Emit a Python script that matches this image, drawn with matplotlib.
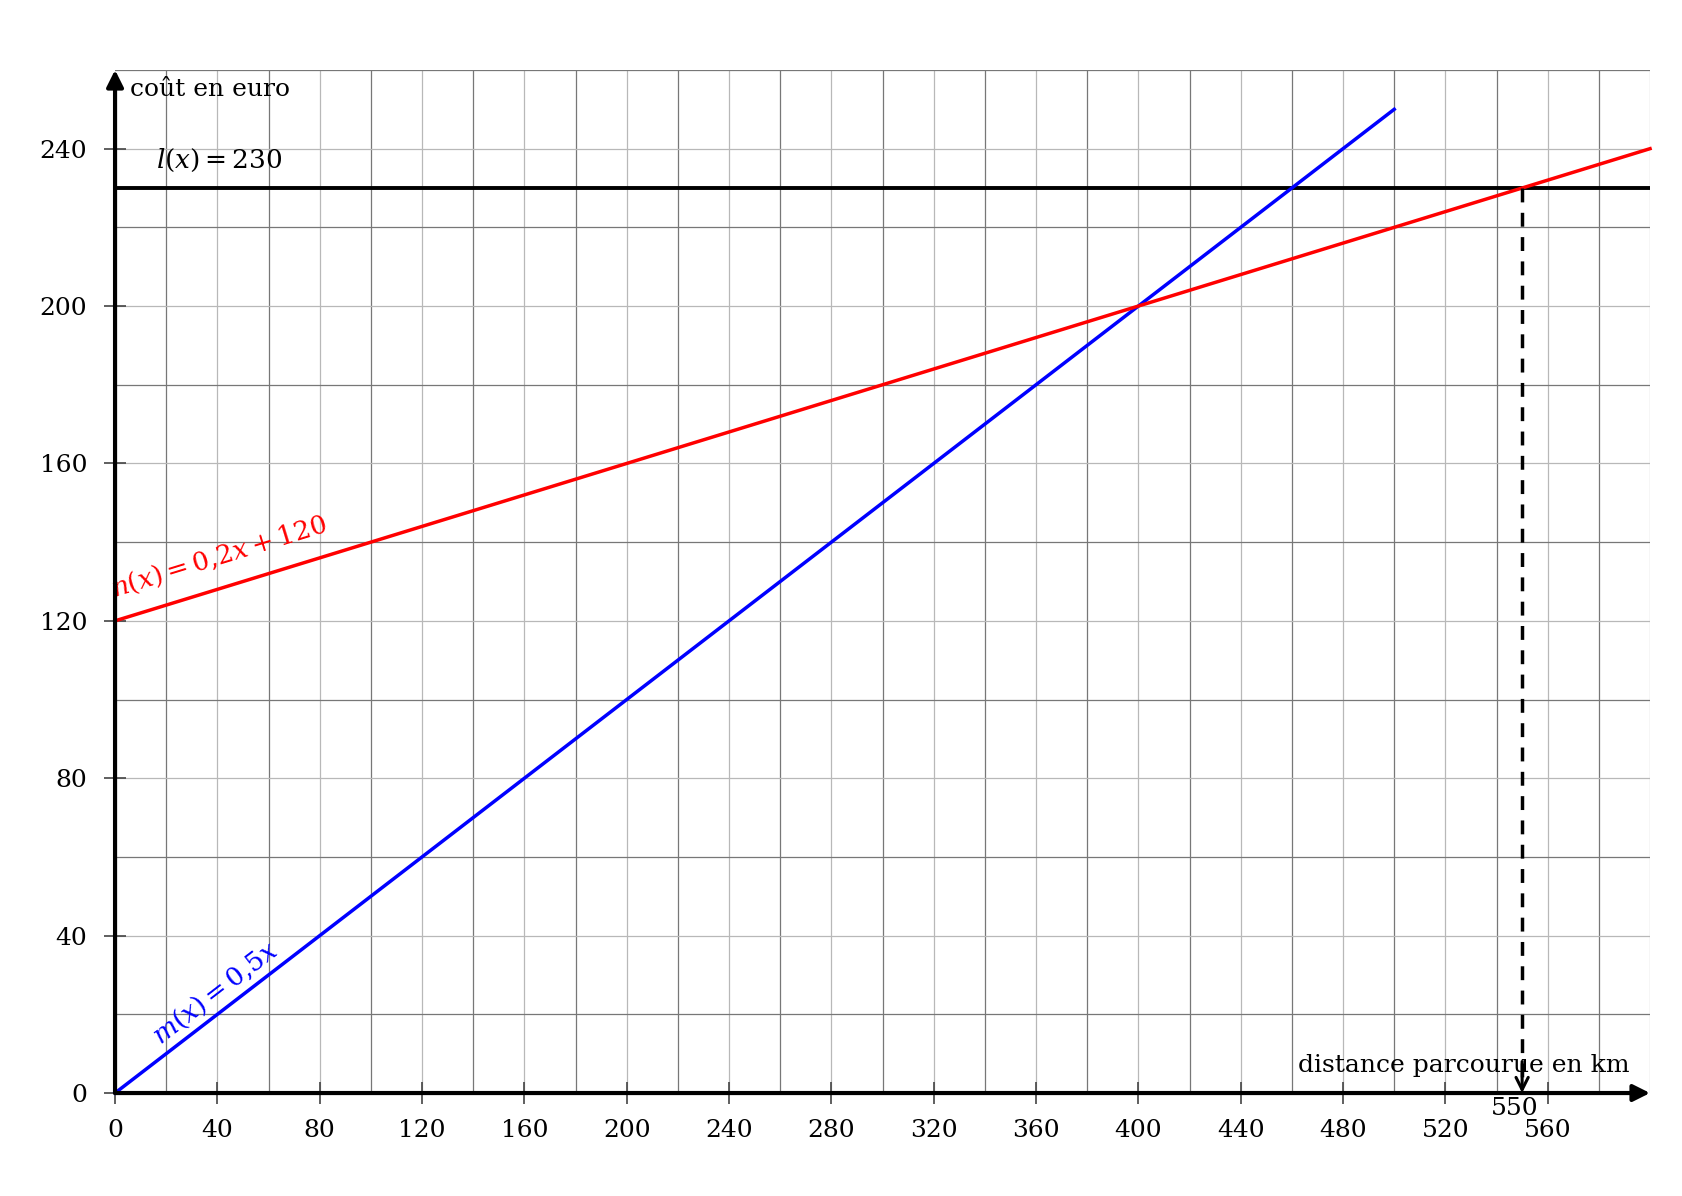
import numpy as np
import matplotlib.pyplot as plt

plt.rcParams['font.family'] = ['DejaVu Serif']
plt.rcParams['mathtext.fontset'] = 'dejavuserif'

# données
x_m = [0, 500]
y_m = [0.5 * v for v in x_m]          # m(x) = 0,5x
x_n = [0, 600]
y_n = [0.2 * v + 120 for v in x_n]    # n(x) = 0,2x + 120
x_l = [0, 600]
y_l = [230, 230]                      # l(x) = 230
x_sol = 550

xticks = list(range(0, 561, 40))
yticks = list(range(0, 241, 40))

fig = plt.figure(figsize=(16.82, 11.96), dpi=100)
ax = fig.add_axes([0.0684, 0.0861, 0.9126, 0.8554])
ax.set_xlim(0, 600)
ax.set_ylim(0, 260)

# quadrillage
for gx in range(20, 601, 20):
    c = '#b8b8b8' if gx % 40 == 0 else '#777777'
    ax.axvline(gx, color=c, lw=0.9, zorder=1)
for gy in range(20, 261, 20):
    c = '#b8b8b8' if gy % 40 == 0 else '#777777'
    ax.axhline(gy, color=c, lw=0.9, zorder=1)

for s in ax.spines.values():
    s.set_visible(False)

ax.set_xticks(xticks)
ax.set_yticks(yticks)
ax.set_xticklabels([str(t) for t in xticks], fontsize=18)
ax.set_yticklabels([str(t) for t in yticks], fontsize=18)
ax.tick_params(axis='x', direction='inout', length=16, width=1.2, color='#444444', pad=11)
ax.tick_params(axis='y', direction='inout', length=16, width=1.2, color='#444444', pad=12)

# axes avec flèches
ax.annotate('', xy=(600, 0), xytext=(0, 0),
            arrowprops=dict(arrowstyle='-|>', lw=3, color='black', mutation_scale=25,
                            shrinkA=0, shrinkB=0),
            annotation_clip=False, zorder=6)
ax.annotate('', xy=(0, 260), xytext=(0, 0),
            arrowprops=dict(arrowstyle='-|>', lw=3, color='black', mutation_scale=25,
                            shrinkA=0, shrinkB=0),
            annotation_clip=False, zorder=6)

# courbes
ax.plot(x_m, y_m, color='blue', lw=2.5, zorder=4, clip_on=False)
ax.plot(x_n, y_n, color='red', lw=2.5, zorder=4, clip_on=False)
ax.plot(x_l, y_l, color='black', lw=2.8, zorder=3)

# pointillés vers 550
ax.plot([x_sol, x_sol], [230, 2], color='black', lw=2.5, ls=(0, (4, 3)), zorder=5)
ax.annotate('', xy=(x_sol, 0), xytext=(x_sol, 8),
            arrowprops=dict(arrowstyle='->', lw=2.2, color='black',
                            mutation_scale=22, shrinkA=0, shrinkB=0), zorder=5)
ax.text(x_sol - 3, -1.0, '550', fontsize=18, ha='center', va='top')

# textes
ax.text(6, 258, 'coût en euro', fontsize=18, ha='left', va='top')
ax.text(592, 4, 'distance parcourue en km', fontsize=18, ha='right', va='bottom')
ax.text(16, 237, r'$l(x) = 230$', fontsize=19, ha='left', va='center')

fig.canvas.draw()
ang_n = ax.transData.transform_angles(np.array([np.degrees(np.arctan(0.2))]),
                                      np.array([[0, 120]]))[0]
ang_m = ax.transData.transform_angles(np.array([np.degrees(np.arctan(0.5))]),
                                      np.array([[0, 0]]))[0]
ax.text(0.5, 124.5, r'$n(x) = 0{,}2x + 120$', fontsize=19, color='red',
        rotation=ang_n, rotation_mode='anchor', ha='left', va='bottom')
ax.text(19, 11.0, r'$m(x) = 0{,}5x$', fontsize=19, color='blue',
        rotation=ang_m, rotation_mode='anchor', ha='left', va='bottom')

fig.savefig('out.png', dpi=100)
